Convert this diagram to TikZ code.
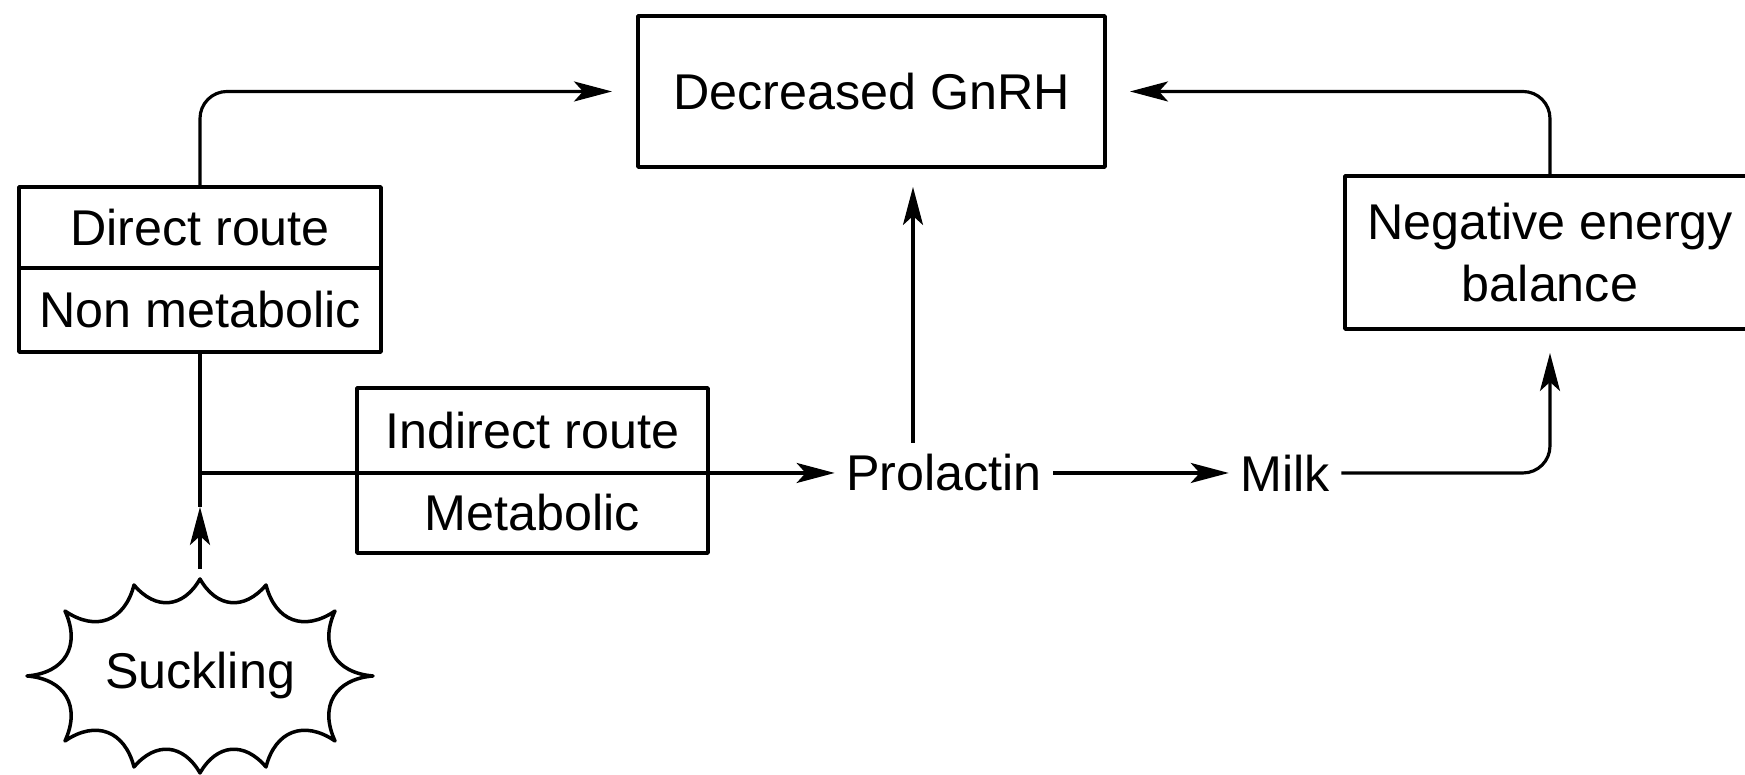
\documentclass[tikz,border=0pt]{standalone}
\usepackage{fontspec}
\setmainfont{Liberation Sans}
\usetikzlibrary{positioning,arrows.meta}

\tikzset{
  box/.style={draw, line width=1pt, outer sep=0pt, align=center,
    font=\fontsize{14.3}{17.5}\selectfont},
  txt/.style={inner sep=1mm, font=\fontsize{14.3}{17}\selectfont},
  arr/.style={-{Stealth[length=3.8mm,width=2mm,inset=0.9mm]}},
}

\begin{document}
\begin{tikzpicture}[line width=0.9pt, line join=round]
\clip (0,0) rectangle (17.45,7.75);

% Top boxes
\node[box, minimum width=4.67cm, minimum height=1.51cm] (gnrh) at (8.715,6.835) {Decreased GnRH};
\node[box, minimum width=4.1cm, minimum height=1.53cm] (neb) at (15.5,5.225)
  {Negative energy\\balance};

% Direct route
\node[box, minimum width=3.62cm, minimum height=0.81cm] (direct) at (2.0,5.475) {Direct route};
\node[box, minimum width=3.62cm, minimum height=0.84cm, below=0pt of direct] (nonmet) {Non metabolic};

% Indirect route
\node[box, minimum width=3.51cm, minimum height=0.85cm] (indirect) at (5.325,3.445) {Indirect route};
\node[box, minimum width=3.51cm, minimum height=0.80cm, below=0pt of indirect] (metab) {Metabolic};

% Plain labels
\node[txt] (prolactin) at (9.44,3.02) {Prolactin};
\node[txt] (milk) at (12.85,3.02) {Milk};
\node[txt] (suckling) at (2.0,0.99) {Suckling};

% Wavy outline round suckling
\begin{scope}[shift={(suckling.center)}, line width=1pt]
\draw (0,0.97) to[bend right=55, looseness=1.3] (0.66,0.91)
  to[bend right=55, looseness=1.3] (1.35,0.65)
  to[bend right=55, looseness=1.3] (1.73,0)
  to[bend right=55, looseness=1.3] (1.35,-0.65)
  to[bend right=55, looseness=1.3] (0.66,-0.91)
  to[bend right=55, looseness=1.3] (0,-0.97)
  to[bend right=55, looseness=1.3] (-0.66,-0.91)
  to[bend right=55, looseness=1.3] (-1.35,-0.65)
  to[bend right=55, looseness=1.3] (-1.73,0)
  to[bend right=55, looseness=1.3] (-1.35,0.65)
  to[bend right=55, looseness=1.3] (-0.66,0.91)
  to[bend right=55, looseness=1.3] (0,0.97) -- cycle;
\end{scope}

% Arrows into GnRH
\draw[arr, rounded corners=0.27cm, shorten >=0.26cm] (direct.north) |- (gnrh.west);
\draw[arr, rounded corners=0.27cm, shorten >=0.25cm] (neb.north) |- (gnrh.east);
\coordinate (prup) at ([xshift=-0.31cm]prolactin.north);
\draw[arr, shorten >=0.2cm] (prup) -- (prup |- gnrh.south);

% Suckling up to the routes
\coordinate (sucktop) at ([yshift=1.07cm]suckling.center);
\draw[arr] (sucktop) -- ++(0,0.62) coordinate (uptip);
\draw (uptip) -- (nonmet.south);
\coordinate (branch) at (nonmet.south |- prolactin.west);
\draw[arr] (branch) -- (prolactin.west);

% Prolactin -> milk -> energy balance
\draw[arr] (prolactin) -- (milk);
\draw[arr, rounded corners=0.27cm, shorten >=0.24cm] (milk.east) -| (neb.south);
\end{tikzpicture}
\end{document}
